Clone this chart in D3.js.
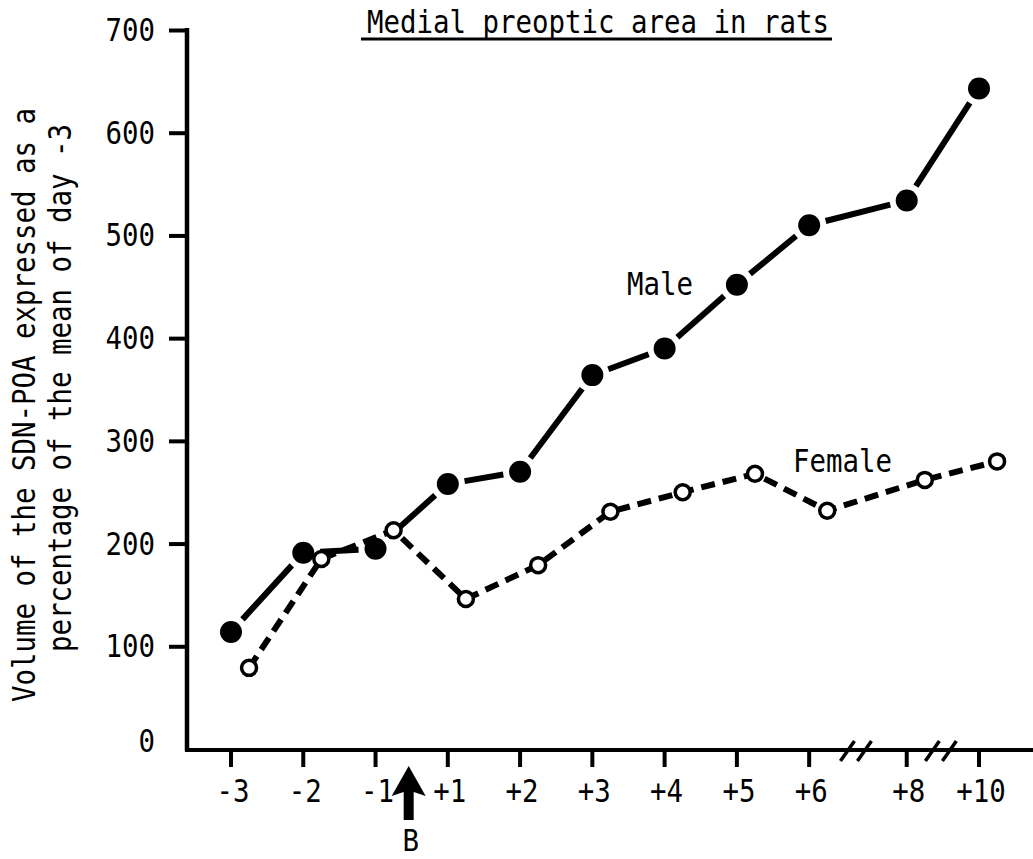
<!DOCTYPE html>
<html>
<head>
<meta charset="utf-8">
<script src="https://cdn.jsdelivr.net/npm/d3@7"></script>
<style>
body { margin: 0; background: #fff; }
svg text { font-family: "DejaVu Sans Mono", monospace; font-size: 32px; fill: #000; }
</style>
</head>
<body>
<div id="chart"></div>
<script>
// values
var days = ["-3", "-2", "-1", "+1", "+2", "+3", "+4", "+5", "+6", "+8", "+10"];
var maleValues = [114, 191, 195, 258, 270, 364, 390, 452, 510, 534, 643];
var femaleValues = [79, 185, 213, 146, 179, 231, 250, 268, 232, 262, 280];
var yTicks = [0, 100, 200, 300, 400, 500, 600, 700];
var breaks = [["+6", "+8"], ["+8", "+10"]];
var title = "Medial preoptic area in rats";
var yLabel = ["Volume of the SDN-POA expressed as a", "percentage of the mean of day -3"];
var seriesNames = ["Male", "Female"];
var markerDay = "B";

var W = 1033, H = 859;
var charW = 16.5;   // monospace advance of the original lettering

var svg = d3.select("#chart").append("svg")
	.attr("width", W)
	.attr("height", H);

// day slots; extra room where the axis is broken before +8
var gapBefore = days.indexOf("+8");
function slot(i) { return i + (i >= gapBefore ? 0.35 : 0); }

var x = d3.scaleLinear().domain([0, slot(days.length - 1)]).range([231, 979]);
var y = d3.scaleLinear().domain([0, 700]).range([749, 30]);
var x0 = 187;

function mono(sel) {
	sel.attr("textLength", function(d) { return d3.select(this).text().length * charW; })
	   .attr("lengthAdjust", "spacingAndGlyphs");
}

// axes
var yAxis = d3.axisLeft(y).tickValues(yTicks.slice(1)).tickSize(18).tickFormat("");
svg.append("g").attr("transform", "translate(" + x0 + ",0)").call(yAxis)
	.call(function(g) {
		g.select(".domain").remove();
		g.selectAll("line").attr("stroke", "#000").attr("stroke-width", 4);
	});

svg.append("line").attr("x1", x0).attr("x2", x0).attr("y1", y(700) - 2).attr("y2", y(0) + 2)
	.attr("stroke", "#000").attr("stroke-width", 4.5);
svg.append("line").attr("x1", x0 - 2).attr("x2", W).attr("y1", y(0) + 1).attr("y2", y(0) + 1)
	.attr("stroke", "#000").attr("stroke-width", 4);

svg.selectAll(".ylab").data(yTicks).enter().append("text")
	.attr("class", "ylab")
	.attr("x", 155)
	.attr("y", function(d) { return d == 0 ? y(d) + 3 : y(d) + 11; })
	.attr("text-anchor", "end")
	.text(function(d) { return d; })
	.call(mono);

svg.selectAll(".xtick").data(days).enter().append("line")
	.attr("class", "xtick")
	.attr("x1", function(d, i) { return x(slot(i)); })
	.attr("x2", function(d, i) { return x(slot(i)); })
	.attr("y1", y(0) + 1)
	.attr("y2", y(0) + 18)
	.attr("stroke", "#000").attr("stroke-width", 4);

svg.selectAll(".xlab").data(days).enter().append("text")
	.attr("class", "xlab")
	.attr("x", function(d, i) { return x(slot(i)) + 2; })
	.attr("y", 802)
	.attr("text-anchor", "middle")
	.text(function(d) { return d; })
	.call(mono);

// axis break marks
breaks.forEach(function(b) {
	var i0 = days.indexOf(b[0]), i1 = days.indexOf(b[1]);
	var cx = (x(slot(i0)) + x(slot(i1))) / 2 - 2;
	[-8.5, 8.5].forEach(function(o) {
		svg.append("line")
			.attr("x1", cx + o - 7).attr("y1", y(0) + 12)
			.attr("x2", cx + o + 7).attr("y2", y(0) - 8)
			.attr("stroke", "#000").attr("stroke-width", 3.5);
	});
});

// birth arrow between -1 and +1
var ax = (x(slot(days.indexOf("-1"))) + x(slot(days.indexOf("+1")))) / 2 - 3;
var arrow = d3.path();
arrow.moveTo(ax, 766);
arrow.lineTo(ax + 17, 796);
arrow.lineTo(ax + 5, 792);
arrow.lineTo(ax + 5, 820);
arrow.lineTo(ax - 5, 820);
arrow.lineTo(ax - 5, 792);
arrow.lineTo(ax - 17, 796);
arrow.closePath();
svg.append("path").attr("d", arrow.toString()).attr("fill", "#000");
svg.append("text").attr("x", ax + 2).attr("y", 851).attr("text-anchor", "middle")
	.style("font-size", "30px")
	.text(markerDay).call(mono);

// title
svg.append("text").attr("x", 598).attr("y", 33).attr("text-anchor", "middle")
	.text(title).call(mono);
svg.append("line").attr("x1", 598 - title.length * charW / 2 - 6).attr("x2", 598 + title.length * charW / 2 + 3)
	.attr("y1", 39).attr("y2", 39).attr("stroke", "#000").attr("stroke-width", 3);

// y axis title
svg.selectAll(".ytitle").data(yLabel).enter().append("text")
	.attr("class", "ytitle")
	.attr("transform", function(d, i) { return "translate(" + (i == 0 ? 35 : 71) + "," + (i == 0 ? 405 : 388) + ") rotate(-90)"; })
	.attr("text-anchor", "middle")
	.text(function(d) { return d; })
	.call(mono);

// series
var maleR = 11, femaleR = 7.5, femaleDodge = 0.25;
var male = maleValues.map(function(v, i) { return [x(slot(i)), y(v)]; });
var female = femaleValues.map(function(v, i) { return [x(slot(i) + femaleDodge), y(v)]; });

// male: solid segments stopping short of the dots
var segs = d3.pairs(male).map(function(p) {
	var dx = p[1][0] - p[0][0], dy = p[1][1] - p[0][1];
	var len = Math.sqrt(dx * dx + dy * dy), k = (maleR + 6) / len;
	return [p[0][0] + dx * k, p[0][1] + dy * k, p[1][0] - dx * k, p[1][1] - dy * k];
});
svg.selectAll(".mseg").data(segs).enter().append("line")
	.attr("class", "mseg")
	.attr("x1", function(d) { return d[0]; }).attr("y1", function(d) { return d[1]; })
	.attr("x2", function(d) { return d[2]; }).attr("y2", function(d) { return d[3]; })
	.attr("stroke", "#000").attr("stroke-width", 6);

svg.append("path")
	.attr("d", d3.line()(female))
	.attr("fill", "none")
	.attr("stroke", "#000")
	.attr("stroke-width", 6)
	.attr("stroke-dasharray", "14,8");

svg.selectAll(".mdot").data(male).enter().append("circle")
	.attr("class", "mdot")
	.attr("cx", function(d) { return d[0]; }).attr("cy", function(d) { return d[1]; })
	.attr("r", maleR).attr("fill", "#000");

svg.selectAll(".fdot").data(female).enter().append("circle")
	.attr("class", "fdot")
	.attr("cx", function(d) { return d[0]; }).attr("cy", function(d) { return d[1]; })
	.attr("r", femaleR).attr("fill", "#fff").attr("stroke", "#000").attr("stroke-width", 3.5);

// series labels
svg.append("text").attr("x", 627).attr("y", 295).text(seriesNames[0]).call(mono);
svg.append("text").attr("x", 793).attr("y", 472).text(seriesNames[1]).call(mono);
</script>
</body>
</html>
